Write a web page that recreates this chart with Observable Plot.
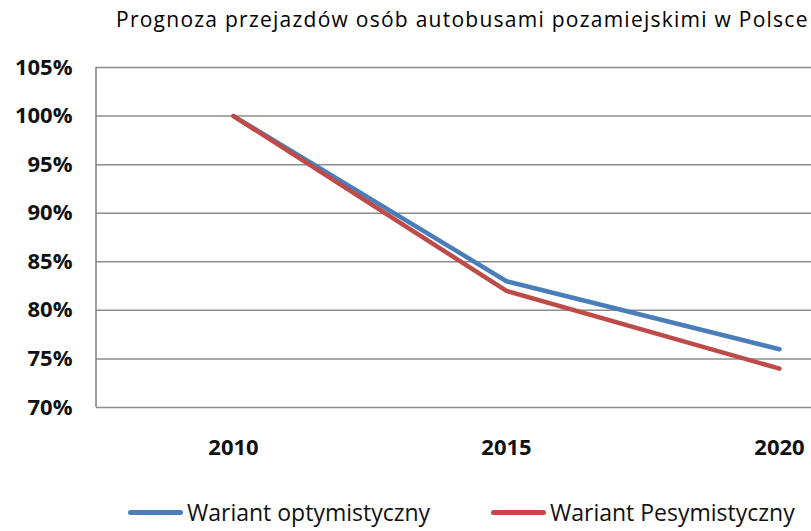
<!DOCTYPE html>
<html><head><meta charset="utf-8">
<script src="https://cdn.jsdelivr.net/npm/d3@7"></script>
<script src="https://cdn.jsdelivr.net/npm/@observablehq/plot@0.6"></script>
<style>
body{margin:0;background:#fff;width:811px;height:531px;overflow:hidden;font-family:"Open Sans",sans-serif;}
#title{height:50px;box-sizing:border-box;padding-top:4px;padding-left:116px;font-size:21px;line-height:30px;letter-spacing:1.25px;white-space:nowrap;color:#000;}
#legend{position:relative;height:41px;font-size:23px;white-space:nowrap;color:#111;}
.item{position:absolute;top:7px;display:flex;align-items:center;line-height:30px;}
.sw{display:inline-block;width:55px;height:5px;border-radius:3px;margin-right:4px;}
</style></head><body>
<div id="title">Prognoza przejazdów osób autobusami pozamiejskimi w Polsce</div>
<div id="chart"></div>
<div id="legend"></div>
<script>
const years = ["2010", "2015", "2020"];
const optimistic = [1.00, 0.83, 0.76];
const pessimistic = [1.00, 0.82, 0.74];
const seriesNames = ["Wariant optymistyczny", "Wariant Pesymistyczny"];
const seriesColors = ["#4a7ebb", "#be4b48"];
const yTicks = [0.70, 0.75, 0.80, 0.85, 0.90, 0.95, 1.00, 1.05];

const rows = [];
years.forEach((y, i) => {
  rows.push({year: y, value: optimistic[i], series: seriesNames[0]});
  rows.push({year: y, value: pessimistic[i], series: seriesNames[1]});
});

const chart = Plot.plot({
  width: 811,
  height: 440,
  marginLeft: 96,
  marginRight: -104,
  marginTop: 17,
  marginBottom: 83,
  style: {fontFamily: "Open Sans, sans-serif", fontSize: "22px", fontWeight: "bold", color: "#111", background: "#fff"},
  x: {type: "point", domain: years, padding: 0.5, label: null, tickSize: 0, tickPadding: 32},
  y: {domain: [0.70, 1.05], ticks: yTicks, tickFormat: d => Math.round(d * 100) + "%", label: null, tickSize: 0, tickPadding: 24},
  color: {domain: seriesNames, range: seriesColors},
  marks: [
    Plot.ruleY(yTicks, {stroke: "#8c8c8c", strokeWidth: 1.5, strokeOpacity: 1}),
    Plot.line(rows, {x: "year", y: "value", z: "series", stroke: "series", strokeWidth: 4.5, strokeLinecap: "round", strokeLinejoin: "round"})
  ]
});
// left axis line
const svg = d3.select(chart);
svg.append("line").attr("x1", 96).attr("x2", 96).attr("y1", 17).attr("y2", 357)
  .attr("stroke", "#7f7f7f").attr("stroke-width", 1.5);
svg.style("overflow", "hidden");
document.getElementById("chart").appendChild(chart);

const legend = document.getElementById("legend");
const lefts = [128, 491];
seriesNames.forEach((n, i) => {
  const d = document.createElement("div");
  d.className = "item";
  d.style.left = lefts[i] + "px";
  d.innerHTML = `<span class="sw" style="background:${seriesColors[i]}"></span><span>${n}</span>`;
  legend.appendChild(d);
});
</script>
</body></html>
